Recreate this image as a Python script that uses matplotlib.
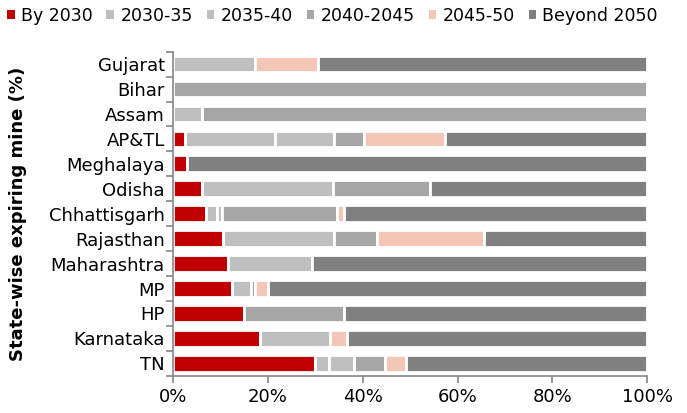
import matplotlib
matplotlib.use('Agg')
import matplotlib.pyplot as plt
import numpy as np

plt.rcParams['font.family'] = ['DejaVu Sans']

states = ['Gujarat', 'Bihar', 'Assam', 'AP&TL', 'Meghalaya', 'Odisha', 'Chhattisgarh',
          'Rajasthan', 'Maharashtra', 'MP', 'HP', 'Karnataka', 'TN']
periods = ['By 2030', '2030-35', '2035-40', '2040-2045', '2045-50', 'Beyond 2050']
colors = ['#C00000', '#BFBFBF', '#BFBFBF', '#A6A6A6', '#F4C6B6', '#808080']

# share (%) of expiring mines per period, per state
by_2030 = [0, 0, 0, 2.4, 2.9, 6.1, 6.9, 10.5, 11.5, 12.5, 14.9, 18.4, 29.9]
p2030_35 = [17.2, 0, 6.0, 19.0, 0, 27.7, 2.4, 23.4, 17.9, 3.9, 0, 14.6, 3.0]
p2035_40 = [0, 0, 0, 12.5, 0, 0, 1.0, 0, 0, 0, 0, 0, 5.2]
p2040_45 = [0, 100, 94.0, 6.3, 0, 20.3, 24.3, 9.2, 0, 0.8, 21.1, 0, 6.5]
p2045_50 = [13.3, 0, 0, 17.2, 0, 0, 1.5, 22.4, 0, 2.8, 0, 3.6, 4.6]
beyond_2050 = [69.5, 0, 0, 42.6, 97.1, 45.9, 63.9, 34.5, 70.6, 80.0, 64.0, 63.4, 50.8]

series = [by_2030, p2030_35, p2035_40, p2040_45, p2045_50, beyond_2050]

fig = plt.figure(figsize=(6.87, 4.13), dpi=100)
ax = fig.add_axes([0.252, 0.09, 0.69, 0.785])

y = np.arange(len(states))[::-1]
left = np.zeros(len(states))
for name, vals, c in zip(periods, series, colors):
    vals = np.array(vals)
    ax.barh(y, vals, left=left, height=0.67, color=c, edgecolor='white',
            linewidth=2, label=name)
    left += vals

ax.set_xlim(0, 100)
ax.set_ylim(-0.5, len(states) - 0.5)
ax.set_xticks(np.arange(0, 101, 20))
ax.set_xticklabels(['%d%%' % v for v in range(0, 101, 20)], fontsize=13)
ax.set_yticks(y)
ax.set_yticklabels(states, fontsize=13)
ax.set_yticks(np.arange(-0.5, len(states)), minor=True)
ax.tick_params(axis='y', which='major', length=0, pad=6)
ax.tick_params(axis='y', which='minor', length=5, color='#868686', width=1.2)
ax.tick_params(axis='x', length=5, color='#868686', width=1.2)

for s in ['top', 'right']:
    ax.spines[s].set_visible(False)
for s in ['left', 'bottom']:
    ax.spines[s].set_color('#868686')
    ax.spines[s].set_linewidth(1.2)

ax.set_ylabel('State-wise expiring mine (%)', fontsize=13, fontweight='bold', labelpad=16)

leg = fig.legend(loc='upper left', bbox_to_anchor=(0.0, 1.0), ncol=6, frameon=False,
                 fontsize=12.5, handlelength=0.45, handleheight=0.45, handletextpad=0.35,
                 columnspacing=0.8, borderaxespad=0.2, borderpad=0.2)
for h in leg.legend_handles:
    h.set_edgecolor('none')

fig.savefig('out.png', dpi=100)
